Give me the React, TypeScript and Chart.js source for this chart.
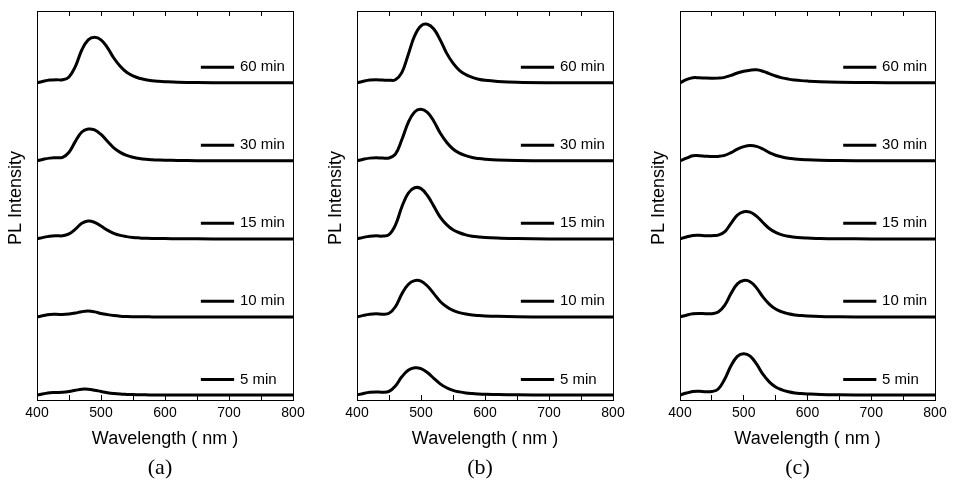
import React, { useEffect, useRef } from 'react';
import { Chart, registerables } from 'chart.js';

Chart.register(...registerables);

// ---------- data ----------
const WAVELENGTHS = [400, 410, 420, 430, 440, 450, 460, 470, 480, 490, 500, 510, 520, 530, 540, 550, 560, 570, 580, 590, 600, 620, 650, 700, 750, 800];
const TIMES = ['5 min', '10 min', '15 min', '30 min', '60 min'];
const OFFSETS = [0, 1, 2, 3, 4];
const X_MIN = 400;
const X_MAX = 800;
const X_STEP = 50;
const Y_MIN = -0.064;
const Y_MAX = 4.92;
const KEY_LINE_X = [656, 708];
const KEY_TEXT_X = 717;
const KEY_LIFT = 0.2;
const PANEL_LETTERS = ['(a)', '(b)', '(c)'];

// panel (a)
const A_5 = [0, 0.015, 0.03, 0.032, 0.035, 0.045, 0.06, 0.074, 0.074, 0.062, 0.045, 0.03, 0.019, 0.012, 0.008, 0.005, 0.003, 0.002, 0.001, 0, 0, 0, 0, 0, 0, 0];
const A_10 = [0, 0.018, 0.032, 0.034, 0.032, 0.038, 0.05, 0.068, 0.075, 0.065, 0.045, 0.03, 0.018, 0.01, 0.006, 0.004, 0.003, 0.002, 0.001, 0.001, 0, 0, 0, 0, 0, 0];
const A_15 = [0, 0.02, 0.035, 0.04, 0.04, 0.065, 0.125, 0.2, 0.23, 0.212, 0.165, 0.112, 0.072, 0.045, 0.029, 0.019, 0.013, 0.009, 0.006, 0.005, 0.004, 0.002, 0.001, 0, 0, 0];
const A_30 = [0, 0.02, 0.035, 0.04, 0.045, 0.11, 0.25, 0.37, 0.408, 0.396, 0.338, 0.251, 0.167, 0.109, 0.07, 0.047, 0.031, 0.021, 0.015, 0.011, 0.008, 0.005, 0.002, 0, 0, 0];
const A_60 = [0, 0.02, 0.035, 0.04, 0.038, 0.075, 0.21, 0.42, 0.55, 0.583, 0.55, 0.452, 0.318, 0.212, 0.135, 0.088, 0.058, 0.038, 0.026, 0.019, 0.0145, 0.008, 0.003, 0, 0, 0];

// panel (b)
const B_5 = [0, 0.02, 0.035, 0.04, 0.035, 0.046, 0.115, 0.233, 0.316, 0.348, 0.338, 0.288, 0.214, 0.143, 0.093, 0.06, 0.04, 0.026, 0.018, 0.013, 0.0095, 0.005, 0.002, 0, 0, 0];
const B_10 = [0, 0.02, 0.035, 0.04, 0.036, 0.047, 0.131, 0.294, 0.416, 0.466, 0.459, 0.396, 0.299, 0.199, 0.131, 0.084, 0.056, 0.037, 0.025, 0.018, 0.013, 0.0075, 0.003, 0, 0, 0];
const B_15 = [0, 0.02, 0.035, 0.04, 0.036, 0.054, 0.176, 0.409, 0.585, 0.655, 0.644, 0.556, 0.42, 0.28, 0.183, 0.117, 0.079, 0.052, 0.035, 0.025, 0.018, 0.011, 0.004, 0, 0, 0];
const B_30 = [0, 0.02, 0.035, 0.04, 0.035, 0.036, 0.085, 0.27, 0.49, 0.627, 0.66, 0.62, 0.508, 0.356, 0.238, 0.152, 0.099, 0.066, 0.043, 0.03, 0.022, 0.012, 0.005, 0.001, 0, 0];
const B_60 = [0, 0.02, 0.035, 0.04, 0.035, 0.032, 0.04, 0.13, 0.36, 0.6, 0.73, 0.75, 0.69, 0.55, 0.38, 0.252, 0.16, 0.105, 0.07, 0.046, 0.032, 0.018, 0.007, 0.001, 0, 0];

// panel (c)
const C_5 = [0, 0.025, 0.045, 0.048, 0.042, 0.044, 0.077, 0.202, 0.374, 0.495, 0.529, 0.499, 0.398, 0.266, 0.169, 0.103, 0.066, 0.042, 0.027, 0.019, 0.014, 0.007, 0.003, 0, 0, 0];
const C_10 = [0, 0.022, 0.04, 0.045, 0.042, 0.042, 0.062, 0.148, 0.3, 0.424, 0.467, 0.452, 0.373, 0.257, 0.165, 0.101, 0.064, 0.041, 0.026, 0.018, 0.013, 0.007, 0.002, 0, 0, 0];
const C_15 = [0, 0.025, 0.045, 0.048, 0.042, 0.042, 0.049, 0.09, 0.2, 0.305, 0.347, 0.343, 0.292, 0.21, 0.134, 0.083, 0.052, 0.033, 0.021, 0.014, 0.0105, 0.005, 0.002, 0, 0, 0];
const C_30 = [0, 0.034, 0.065, 0.066, 0.06, 0.055, 0.057, 0.07, 0.105, 0.15, 0.182, 0.197, 0.186, 0.152, 0.105, 0.072, 0.05, 0.034, 0.025, 0.018, 0.013, 0.008, 0.004, 0.001, 0, 0];
const C_60 = [0, 0.04, 0.065, 0.065, 0.06, 0.058, 0.06, 0.07, 0.095, 0.125, 0.148, 0.162, 0.166, 0.148, 0.118, 0.087, 0.063, 0.047, 0.036, 0.028, 0.022, 0.014, 0.008, 0.003, 0.001, 0];

const PANEL_SERIES = [
  [A_5, A_10, A_15, A_30, A_60],
  [B_5, B_10, B_15, B_30, B_60],
  [C_5, C_10, C_15, C_30, C_60],
];

// ---------- layout / style ----------
const PANEL_LAYOUT = [
  { left: 0, width: 320, axisLeft: 37, axisRight: 27 },
  { left: 320, width: 320, axisLeft: 37, axisRight: 27 },
  { left: 640, width: 315, axisLeft: 40, axisRight: 20 },
];
const H = 493;
const SANS = 'Arial, "Liberation Sans", Helvetica, sans-serif';
const SERIF = '"Times New Roman", "Liberation Serif", Times, serif';

const keyTextPlugin = {
  id: 'keyText',
  afterDatasetsDraw(chart: any) {
    const { ctx, scales } = chart;
    const x = scales.x;
    const y = scales.y;
    ctx.save();
    ctx.font = `15px ${SANS}`;
    ctx.fillStyle = '#000';
    ctx.textAlign = 'left';
    ctx.textBaseline = 'middle';
    TIMES.forEach((t, i) => {
      ctx.fillText(t, x.getPixelForValue(KEY_TEXT_X), y.getPixelForValue(OFFSETS[i] + KEY_LIFT));
    });
    ctx.restore();
  },
};

function buildConfig(idx: number): any {
  const series = PANEL_SERIES[idx];
  const lay = PANEL_LAYOUT[idx];
  const datasets: any[] = [];
  series.forEach((vals, i) => {
    datasets.push({
      label: TIMES[i],
      data: WAVELENGTHS.map((w, j) => ({ x: w, y: vals[j] + OFFSETS[i] })),
      borderColor: '#000',
      borderWidth: 3,
      pointRadius: 0,
      tension: 0.4,
      fill: false,
    });
    datasets.push({
      label: TIMES[i] + ' key',
      data: KEY_LINE_X.map((x) => ({ x, y: OFFSETS[i] + KEY_LIFT })),
      borderColor: '#000',
      borderWidth: 3,
      pointRadius: 0,
      tension: 0,
      fill: false,
    });
  });

  const tickGrid = {
    display: true,
    drawOnChartArea: false,
    drawTicks: true,
    tickLength: -5,
    tickColor: '#000',
    color: '#000',
    lineWidth: 1,
  };
  const border = { display: true, color: '#000', width: 1 };

  return {
    type: 'line',
    data: { datasets },
    plugins: [keyTextPlugin],
    options: {
      responsive: false,
      animation: false,
      devicePixelRatio: 1,
      events: [],
      layout: { padding: 0 },
      plugins: {
        legend: { display: false },
        tooltip: { enabled: false },
        title: {
          display: true,
          position: 'bottom',
          text: PANEL_LETTERS[idx],
          color: '#000',
          font: { family: SERIF, size: 22, weight: 'normal' },
          padding: { top: 0, bottom: 11.5 },
        },
      },
      scales: {
        x: {
          type: 'linear',
          position: 'bottom',
          min: X_MIN,
          max: X_MAX,
          ticks: {
            stepSize: X_STEP,
            autoSkip: false,
            maxRotation: 0,
            padding: 10,
            color: '#000',
            font: { family: SANS, size: 14 },
            callback: (v: number) => (v % 100 === 0 ? String(v) : ''),
          },
          grid: tickGrid,
          border,
          title: {
            display: true,
            text: 'Wavelength ( nm )',
            color: '#000',
            font: { family: SANS, size: 18 },
            padding: { top: 0, bottom: 5.5 },
          },
          afterFit: (s: any) => {
            s.height = 55.1;
            s.paddingLeft = 0;
            s.paddingRight = 0;
          },
        },
        x2: {
          type: 'linear',
          position: 'top',
          min: X_MIN,
          max: X_MAX,
          ticks: { display: false, stepSize: X_STEP, autoSkip: false },
          grid: tickGrid,
          border,
          afterFit: (s: any) => {
            s.height = 11;
            s.paddingLeft = 0;
            s.paddingRight = 0;
          },
        },
        y: {
          type: 'linear',
          position: 'left',
          min: Y_MIN,
          max: Y_MAX,
          ticks: { display: false },
          grid: { display: false },
          border,
          title: {
            display: true,
            text: '   PL Intensity',
            color: '#000',
            font: { family: SANS, size: 18 },
            padding: { top: lay.axisLeft - 21 - 10.8, bottom: 0 },
          },
          afterFit: (s: any) => {
            s.width = lay.axisLeft;
            s.paddingTop = 0;
            s.paddingBottom = 0;
          },
        },
        y2: {
          type: 'linear',
          position: 'right',
          min: Y_MIN,
          max: Y_MAX,
          ticks: { display: false },
          grid: { display: false },
          border,
          afterFit: (s: any) => {
            s.width = lay.axisRight;
            s.paddingTop = 0;
            s.paddingBottom = 0;
          },
        },
      },
    },
  };
}

function Panel({ idx }: { idx: number }) {
  const ref = useRef<HTMLCanvasElement | null>(null);
  useEffect(() => {
    if (!ref.current) return;
    const chart = new Chart(ref.current, buildConfig(idx));
    return () => chart.destroy();
  }, [idx]);
  const lay = PANEL_LAYOUT[idx];
  return (
    <canvas
      ref={ref}
      width={lay.width}
      height={H}
      style={{ position: 'absolute', left: lay.left, top: 0, width: lay.width, height: H, display: 'block' }}
    />
  );
}

export default function App() {
  return (
    <div style={{ position: 'absolute', left: 0, top: 0, width: 955, height: H, background: '#fff', overflow: 'hidden' }}>
      <Panel idx={0} />
      <Panel idx={1} />
      <Panel idx={2} />
    </div>
  );
}
